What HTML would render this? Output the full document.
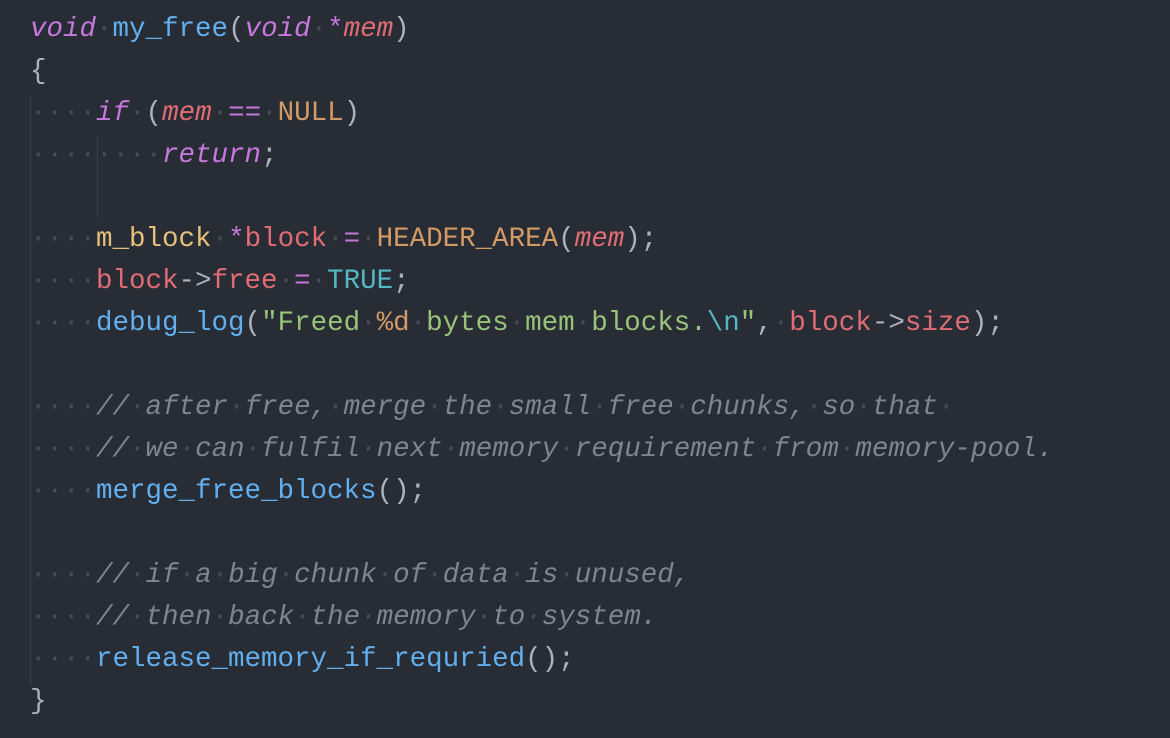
<!DOCTYPE html>
<html><head><meta charset="utf-8"><style>
html,body{margin:0;padding:0;background:#282c34;width:1170px;height:738px;overflow:hidden}
pre{margin:0;padding:9px 0 0 30px;font-family:"Liberation Mono",monospace;font-size:27.5px;line-height:42px;color:#abb2bf;position:relative}
.d{color:#454b57}
.k{color:#c678dd;font-style:italic}
.op{color:#c678dd}
.f{color:#61afef}
.v{color:#e06c75}
.vi{color:#e06c75;font-style:italic}
.c{color:#d19a66}
.y{color:#e5c07b}
.t{color:#56b6c2}
.s{color:#98c379}
.cm{color:#7f848e;font-style:italic}
.g{position:absolute;width:1px;background:#3b4048}
</style></head><body>
<div class="g" style="left:30px;top:95px;height:590px"></div>
<div class="g" style="left:97px;top:136px;height:82px"></div>
<pre><span class="k">void</span><span class="d">·</span><span class="f">my_free</span>(<span class="k">void</span><span class="d">·</span><span class="op">*</span><span class="vi">mem</span>)
{
<span class="d">····</span><span class="k">if</span><span class="d">·</span>(<span class="vi">mem</span><span class="d">·</span><span class="op">==</span><span class="d">·</span><span class="c">NULL</span>)
<span class="d">········</span><span class="k">return</span>;

<span class="d">····</span><span class="y">m_block</span><span class="d">·</span><span class="op">*</span><span class="v">block</span><span class="d">·</span><span class="op">=</span><span class="d">·</span><span class="c">HEADER_AREA</span>(<span class="vi">mem</span>);
<span class="d">····</span><span class="v">block</span>-&gt;<span class="v">free</span><span class="d">·</span><span class="op">=</span><span class="d">·</span><span class="t">TRUE</span>;
<span class="d">····</span><span class="f">debug_log</span>(<span class="s">"Freed</span><span class="d">·</span><span class="c">%d</span><span class="d">·</span><span class="s">bytes</span><span class="d">·</span><span class="s">mem</span><span class="d">·</span><span class="s">blocks.</span><span class="t">\n</span><span class="s">"</span>,<span class="d">·</span><span class="v">block</span>-&gt;<span class="v">size</span>);

<span class="d">····</span><span class="cm">//<span class="d">·</span>after<span class="d">·</span>free,<span class="d">·</span>merge<span class="d">·</span>the<span class="d">·</span>small<span class="d">·</span>free<span class="d">·</span>chunks,<span class="d">·</span>so<span class="d">·</span>that<span class="d">·</span></span>
<span class="d">····</span><span class="cm">//<span class="d">·</span>we<span class="d">·</span>can<span class="d">·</span>fulfil<span class="d">·</span>next<span class="d">·</span>memory<span class="d">·</span>requirement<span class="d">·</span>from<span class="d">·</span>memory-pool.</span>
<span class="d">····</span><span class="f">merge_free_blocks</span>();

<span class="d">····</span><span class="cm">//<span class="d">·</span>if<span class="d">·</span>a<span class="d">·</span>big<span class="d">·</span>chunk<span class="d">·</span>of<span class="d">·</span>data<span class="d">·</span>is<span class="d">·</span>unused,</span>
<span class="d">····</span><span class="cm">//<span class="d">·</span>then<span class="d">·</span>back<span class="d">·</span>the<span class="d">·</span>memory<span class="d">·</span>to<span class="d">·</span>system.</span>
<span class="d">····</span><span class="f">release_memory_if_requried</span>();
}</pre>
</body></html>
